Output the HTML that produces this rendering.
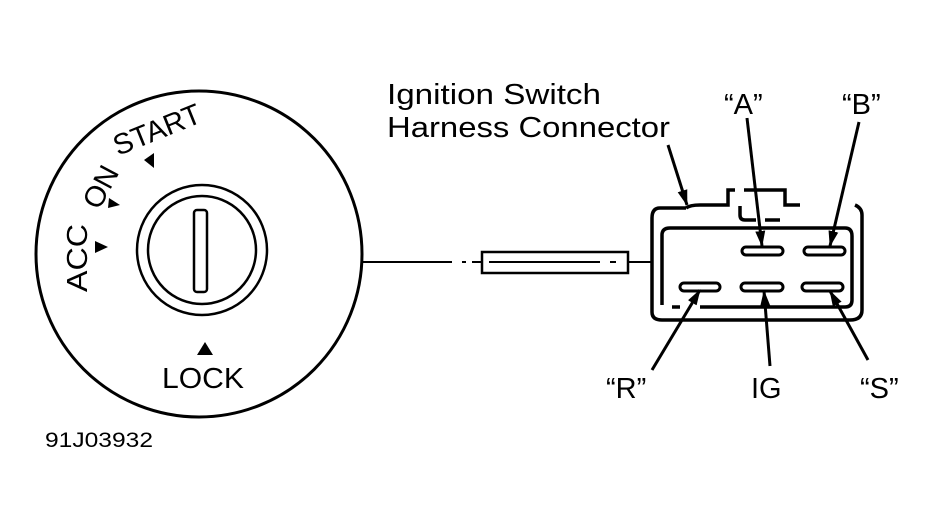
<!DOCTYPE html>
<html><head><style>html,body{margin:0;padding:0;background:#fff}svg{display:block}</style></head>
<body>
<svg width="940" height="525" viewBox="0 0 940 525" xmlns="http://www.w3.org/2000/svg" font-family="Liberation Sans, sans-serif">
<defs>
<marker id="ah2" markerWidth="16" markerHeight="12" refX="15" refY="6" orient="auto" markerUnits="userSpaceOnUse"><path d="M0,1 L16,6 L0,11 z" fill="#000"/></marker></defs>
<g fill="none" stroke="#000">
<circle cx="199" cy="254" r="163" stroke-width="3"/>
<circle cx="202" cy="250" r="65" stroke-width="2.5"/>
<circle cx="202" cy="250" r="54" stroke-width="2.5"/>
<rect x="194" y="210" width="13" height="82" rx="3" stroke-width="2.5"/>
<path d="M362 262 H452 M462 262 H466 M472 262 H482" stroke-width="2"/>
<rect x="482" y="252" width="146" height="21" stroke-width="2.5"/>
<path d="M489 262 H600 M610 262 H616" stroke-width="2"/>
<path d="M628 262 H653" stroke-width="2"/>
<path d="M686 208 H660 Q652 208 652 218 V312 Q652 320 662 320 H850 Q862 320 862 310 V215 Q862 208 855 205" stroke-width="3.5"/>
<path d="M686 208 Q690 205 700 205 H728 V190 H735" stroke-width="3.5"/>
<path d="M744 190 H785 V205 H800" stroke-width="3.5"/>
<path d="M662 305 V235 Q662 228 670 228 H845 Q852 228 852 236 V300 Q852 307 845 307" stroke-width="3.5"/>
<path d="M740 206 V215 Q740 220 745 220 H756 M765 220 H780" stroke-width="3.5"/>
<path d="M672 307 H680 M700 307 H845" stroke-width="3.5"/>
<rect x="742" y="247" width="41" height="8" rx="4" stroke-width="3"/>
<rect x="804" y="247" width="41" height="8" rx="4" stroke-width="3"/>
<rect x="680" y="283" width="40" height="8" rx="4" stroke-width="3"/>
<rect x="741" y="283" width="42" height="8" rx="4" stroke-width="3"/>
<rect x="802" y="283" width="41" height="8" rx="4" stroke-width="3"/>
<line x1="668" y1="145" x2="687" y2="205" stroke-width="3" marker-end="url(#ah2)"/>
<line x1="747" y1="118" x2="762" y2="246" stroke-width="3" marker-end="url(#ah2)"/>
<line x1="859" y1="122" x2="830" y2="246" stroke-width="3" marker-end="url(#ah2)"/>
<line x1="652" y1="370" x2="700" y2="290" stroke-width="3" marker-end="url(#ah2)"/>
<line x1="770" y1="366" x2="764" y2="291" stroke-width="3" marker-end="url(#ah2)"/>
<line x1="868" y1="360" x2="830" y2="291" stroke-width="3" marker-end="url(#ah2)"/>
</g>
<g fill="#000">
<path d="M205 342 L213 355 L197 355 z"/>
<path d="M95 241 L108 247 L95 253 z"/>
<path d="M109 198 L120 205 L108 208 z"/>
<path d="M144 160 L154 153 L154 168 z"/>
</g>
<g fill="#000" font-size="29">
<text x="162" y="388" textLength="82" lengthAdjust="spacingAndGlyphs">LOCK</text>
<text transform="translate(87,292) rotate(-90)" textLength="68" lengthAdjust="spacingAndGlyphs">ACC</text>
<text transform="translate(99,211) rotate(-62)" textLength="44" lengthAdjust="spacingAndGlyphs">ON</text>
<text transform="translate(118,156) rotate(-22)" textLength="92" lengthAdjust="spacingAndGlyphs">START</text>
</g>
<g fill="#000" font-size="29">
<text x="387" y="104" textLength="214" lengthAdjust="spacingAndGlyphs">Ignition Switch</text>
<text x="387" y="137" textLength="283" lengthAdjust="spacingAndGlyphs">Harness Connector</text>
<text x="724" y="114">“A”</text>
<text x="842" y="114">“B”</text>
<text x="606" y="398">“R”</text>
<text x="751" y="398">IG</text>
<text x="860" y="398">“S”</text>
</g>
<text x="45" y="447" font-size="21" fill="#000" textLength="108" lengthAdjust="spacingAndGlyphs">91J03932</text>
</svg>
</body></html>
